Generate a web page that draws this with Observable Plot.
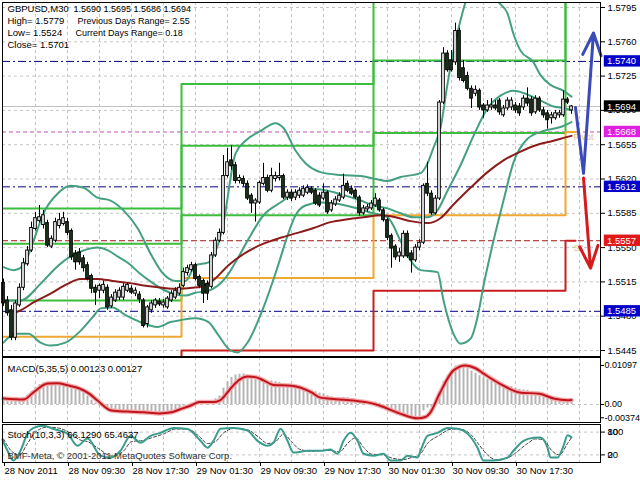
<!DOCTYPE html>
<html><head><meta charset="utf-8">
<script src="https://cdn.jsdelivr.net/npm/d3@7"></script>
<script src="https://cdn.jsdelivr.net/npm/@observablehq/plot@0.6"></script>
<style>
body{margin:0;background:#fff;}
#wrap{position:relative;width:640px;height:480px;overflow:hidden;background:#fff;}
#wrap > div{position:absolute;left:0;}
</style></head><body>
<div id="wrap"><div id="main" style="top:0"></div><div id="macd" style="top:356px"></div><div id="stoch" style="top:422px"></div></div>
<script>
// ---------- DATA ----------
const symbolText = "GBPUSD,M30";
const lastBarOHLC = [1.5690, 1.5695, 1.5686, 1.5694];
const dayHigh = 1.5779, dayLow = 1.5524, dayClose = 1.5701;
const prevDaysRange = "2.55", currentDaysRange = "0.18";

const candleOpen = [1.5514,1.5496,1.5486,1.5458,1.5491,1.5509,1.5533,1.5547,1.5569,1.5577,1.5573,1.5575,1.5551,1.5557,1.5572,1.5574,1.5576,1.5567,1.5544,1.5545,1.5539,1.5532,1.5521,1.5509,1.5506,1.5506,1.5509,1.5490,1.5496,1.5499,1.5499,1.5506,1.5508,1.5503,1.5502,1.5496,1.5472,1.5486,1.5491,1.5495,1.5491,1.5489,1.5496,1.5499,1.5503,1.5511,1.5524,1.5527,1.5532,1.5520,1.5516,1.5513,1.5510,1.5542,1.5557,1.5565,1.5623,1.5639,1.5634,1.5618,1.5620,1.5615,1.5603,1.5595,1.5596,1.5615,1.5621,1.5608,1.5620,1.5621,1.5623,1.5601,1.5606,1.5601,1.5603,1.5603,1.5606,1.5610,1.5608,1.5603,1.5600,1.5606,1.5588,1.5594,1.5598,1.5601,1.5615,1.5610,1.5608,1.5601,1.5585,1.5589,1.5590,1.5593,1.5598,1.5588,1.5578,1.5562,1.5551,1.5541,1.5541,1.5564,1.5544,1.5537,1.5550,1.5555,1.5615,1.5605,1.5585,1.5600,1.5698,1.5748,1.5741,1.5739,1.5771,1.5733,1.5725,1.5712,1.5707,1.5710,1.5695,1.5690,1.5693,1.5695,1.5700,1.5685,1.5692,1.5693,1.5695,1.5694,1.5693,1.5702,1.5701,1.5688,1.5702,1.5690,1.5687,1.5682,1.5682,1.5685,1.5685,1.5701,1.5690];
const candleHigh = [1.5518,1.5500,1.5491,1.5496,1.5513,1.5539,1.5551,1.5576,1.5586,1.5593,1.5588,1.5578,1.5562,1.5580,1.5585,1.5586,1.5580,1.5569,1.5547,1.5549,1.5542,1.5535,1.5523,1.5512,1.5513,1.5516,1.5512,1.5502,1.5507,1.5509,1.5513,1.5514,1.5511,1.5509,1.5505,1.5498,1.5491,1.5496,1.5498,1.5498,1.5497,1.5500,1.5506,1.5509,1.5513,1.5529,1.5532,1.5535,1.5534,1.5522,1.5518,1.5516,1.5545,1.5560,1.5569,1.5644,1.5651,1.5654,1.5637,1.5624,1.5623,1.5618,1.5605,1.5600,1.5618,1.5636,1.5624,1.5631,1.5627,1.5636,1.5625,1.5609,1.5609,1.5609,1.5611,1.5613,1.5614,1.5612,1.5610,1.5606,1.5615,1.5608,1.5598,1.5602,1.5606,1.5625,1.5618,1.5613,1.5610,1.5603,1.5593,1.5594,1.5598,1.5605,1.5600,1.5590,1.5580,1.5564,1.5553,1.5549,1.5567,1.5567,1.5547,1.5553,1.5558,1.5615,1.5637,1.5608,1.5603,1.5700,1.5754,1.5751,1.5751,1.5779,1.5774,1.5741,1.5729,1.5715,1.5715,1.5712,1.5697,1.5700,1.5702,1.5700,1.5702,1.5695,1.5703,1.5703,1.5698,1.5697,1.5705,1.5713,1.5704,1.5705,1.5704,1.5693,1.5690,1.5688,1.5690,1.5690,1.5710,1.5703,1.5695];
const candleLow = [1.5490,1.5480,1.5455,1.5455,1.5489,1.5506,1.5531,1.5545,1.5567,1.5575,1.5569,1.5550,1.5549,1.5555,1.5569,1.5572,1.5562,1.5537,1.5527,1.5532,1.5525,1.5516,1.5503,1.5491,1.5498,1.5503,1.5486,1.5488,1.5494,1.5496,1.5496,1.5504,1.5502,1.5500,1.5493,1.5468,1.5468,1.5483,1.5488,1.5490,1.5488,1.5487,1.5494,1.5497,1.5501,1.5509,1.5521,1.5525,1.5516,1.5508,1.5493,1.5496,1.5508,1.5540,1.5555,1.5563,1.5621,1.5629,1.5615,1.5615,1.5612,1.5598,1.5585,1.5576,1.5594,1.5613,1.5606,1.5606,1.5617,1.5618,1.5599,1.5598,1.5597,1.5598,1.5600,1.5601,1.5604,1.5604,1.5593,1.5591,1.5598,1.5584,1.5586,1.5592,1.5596,1.5599,1.5606,1.5603,1.5599,1.5582,1.5583,1.5586,1.5588,1.5591,1.5586,1.5576,1.5557,1.5529,1.5537,1.5535,1.5539,1.5539,1.5524,1.5535,1.5547,1.5553,1.5602,1.5583,1.5583,1.5598,1.5696,1.5729,1.5729,1.5736,1.5720,1.5718,1.5710,1.5692,1.5704,1.5690,1.5682,1.5688,1.5690,1.5690,1.5685,1.5683,1.5690,1.5690,1.5687,1.5684,1.5690,1.5694,1.5684,1.5686,1.5688,1.5682,1.5671,1.5676,1.5680,1.5682,1.5683,1.5696,1.5686];
const candleClose = [1.5493,1.5483,1.5458,1.5493,1.5509,1.5534,1.5547,1.5570,1.5580,1.5581,1.5583,1.5552,1.5559,1.5576,1.5578,1.5580,1.5565,1.5540,1.5535,1.5535,1.5529,1.5518,1.5508,1.5504,1.5511,1.5512,1.5489,1.5499,1.5504,1.5506,1.5510,1.5512,1.5504,1.5506,1.5497,1.5470,1.5489,1.5493,1.5496,1.5492,1.5494,1.5498,1.5503,1.5506,1.5509,1.5525,1.5529,1.5532,1.5518,1.5511,1.5503,1.5503,1.5542,1.5557,1.5565,1.5623,1.5637,1.5633,1.5618,1.5621,1.5615,1.5600,1.5595,1.5598,1.5616,1.5621,1.5608,1.5623,1.5623,1.5623,1.5601,1.5606,1.5600,1.5606,1.5608,1.5610,1.5611,1.5606,1.5595,1.5593,1.5606,1.5586,1.5595,1.5599,1.5603,1.5613,1.5608,1.5605,1.5601,1.5585,1.5590,1.5591,1.5595,1.5600,1.5588,1.5578,1.5560,1.5549,1.5540,1.5545,1.5564,1.5541,1.5537,1.5550,1.5555,1.5613,1.5605,1.5585,1.5600,1.5698,1.5748,1.5731,1.5731,1.5771,1.5723,1.5720,1.5712,1.5702,1.5711,1.5693,1.5690,1.5695,1.5695,1.5692,1.5688,1.5692,1.5700,1.5700,1.5690,1.5687,1.5702,1.5697,1.5687,1.5702,1.5690,1.5685,1.5680,1.5685,1.5687,1.5687,1.5701,1.5698,1.5694];

// Bollinger bands and slow MA, [bar index, price]
const bandUpper = [[0,1.5530],[2.5,1.5527],[5,1.5532],[7.5,1.5557],[10,1.5585],[13.5,1.5605],[16.75,1.5613],[20,1.5611],[23.5,1.5601],[26.75,1.5598],[30,1.5588],[33.5,1.5570],[36.75,1.5544],[40,1.5523],[43,1.5516],[45.5,1.5516],[48,1.5532],[51.25,1.5535],[54.75,1.5570],[58,1.5646],[60.5,1.5659],[64.25,1.5669],[68,1.5677],[70,1.5672],[73,1.5649],[75.5,1.5636],[79.25,1.5627],[84.25,1.5624],[89.25,1.5623],[93,1.5620],[96,1.5618],[99.25,1.5622],[104.25,1.5626],[106,1.5636],[107.5,1.5652],[109.25,1.5672],[111,1.5717],[112.5,1.5751],[114.25,1.5782],[116,1.5807],[119.25,1.5833],[121.75,1.5817],[123.5,1.5802],[126,1.5789],[127.5,1.5768],[129.25,1.5751],[132.5,1.5739],[134.25,1.5726],[136.75,1.5716],[140,1.5710],[142,1.5704]];
const bandMiddle = [[0,1.5496],[4.25,1.5496],[9.25,1.5513],[13,1.5529],[16,1.5539],[20,1.5547],[23.5,1.5550],[26.25,1.5547],[28.5,1.5541],[31.25,1.5534],[34.25,1.5523],[37.25,1.5514],[40,1.5507],[43,1.5502],[45.5,1.5501],[48,1.5504],[51.25,1.5506],[55.5,1.5519],[58,1.5535],[61,1.5557],[65,1.5583],[69.25,1.5596],[73,1.5606],[76.75,1.5610],[81,1.5608],[85.5,1.5603],[89.25,1.5598],[92.5,1.5593],[96,1.5590],[99.25,1.5585],[102.5,1.5581],[106,1.5581],[108.5,1.5588],[111,1.5608],[114.25,1.5634],[117.5,1.5664],[121,1.5692],[124.25,1.5705],[127.5,1.5710],[130.5,1.5707],[134.25,1.5700],[137.5,1.5694],[140.5,1.5692],[142,1.5690]];
const bandLower = [[0,1.5453],[3,1.5462],[6.25,1.5462],[9.25,1.5453],[11.75,1.5450],[15.5,1.5453],[19.25,1.5465],[22.5,1.5480],[24.25,1.5488],[27.25,1.5489],[30.5,1.5481],[34.25,1.5474],[38.5,1.5469],[41.75,1.5474],[44.25,1.5476],[48,1.5478],[51.25,1.5474],[53.5,1.5462],[56.75,1.5445],[58.5,1.5443],[61,1.5453],[65,1.5489],[68.5,1.5530],[71,1.5562],[73,1.5583],[75.5,1.5593],[79.25,1.5596],[83,1.5595],[87.5,1.5591],[92.5,1.5585],[96,1.5581],[99.25,1.5557],[101.75,1.5537],[104.25,1.5527],[108.5,1.5525],[110,1.5496],[112.5,1.5462],[114.25,1.5452],[116.75,1.5457],[118.5,1.5479],[120,1.5511],[122.5,1.5557],[125,1.5598],[127.5,1.5637],[131,1.5661],[135,1.5669],[139.25,1.5673],[142,1.5678]];
const slowMA = [[3,1.5484],[4.25,1.5486],[7.5,1.5494],[11.75,1.5503],[16,1.5513],[19.25,1.5518],[23.5,1.5518],[27.25,1.5516],[31.25,1.5514],[35.5,1.5511],[39.75,1.5509],[43.75,1.5508],[47.25,1.5509],[49.25,1.5510],[52.5,1.5517],[56.25,1.5532],[61,1.5546],[65,1.5554],[69.25,1.5560],[73.5,1.5565],[77.5,1.5570],[81.75,1.5576],[86,1.5579],[90,1.5581],[94.25,1.5583],[98,1.5581],[101.75,1.5577],[106,1.5575],[109.25,1.5580],[112.5,1.5594],[116.75,1.5611],[121,1.5627],[125,1.5639],[129.25,1.5648],[133.5,1.5655],[137.5,1.5659],[141,1.5663],[142,1.5664]];

// daily pivot levels (days: 28 Nov, 29 Nov, 30 Nov, 1 Dec)
const dayBounds = [-0.25, 44.5, 92.5, 140.5, 143];
const pivotP  = [1.5459, 1.5519, 1.5583, 1.5668];
const pivotS1 = [1.5401, 1.5445, 1.5506, 1.5557];
const pivotR1 = [1.5496, 1.5583, 1.5667, 1.5812];
const pivotR2 = [1.5554, 1.5654, 1.5741, 1.5923];
const pivotR3 = [1.5590, 1.5717, 1.5832, 1.6034];
const midLevels = [1.5740, 1.5612, 1.5485];
const pivotNow = 1.5668, s1Now = 1.5557, bidPrice = 1.5694;

// projection arrows
const blueProjection = [[143,1.5693],[145,1.5626],[147.5,1.5769]];
const redProjection = [[145,1.5621],[146.75,1.5529]];

// axis
const priceTicks = [1.5795,1.5760,1.5725,1.5690,1.5655,1.5620,1.5585,1.5550,1.5515,1.5480,1.5445];
const axisLevels = [1.5740, 1.5694, 1.5668, 1.5612, 1.5557, 1.5485];
const gridIdx = [8,16,24,32,40,48,56,64,72,80,88,96,104,112,120,128,136,144];
const timeTickIdx = [0,16,32,48,64,80,96,112,128];
const timeLabels = ["28 Nov 2011","28 Nov 09:30","28 Nov 17:30","29 Nov 01:30","29 Nov 09:30","29 Nov 17:30","30 Nov 01:30","30 Nov 09:30","30 Nov 17:30"];

// MACD
const macdMain = 0.00123, macdSignalLast = 0.00127;
const macdHist = [0.0018,0.0016,0.0014,0.0014,0.0016,0.0020,0.0026,0.0036,0.0048,0.0056,0.0061,0.0060,0.0058,0.0058,0.0057,0.0056,0.0054,0.0050,0.0046,0.0042,0.0034,0.0024,0.0012,0.0004,-0.0003,-0.0008,-0.0014,-0.0017,-0.0019,-0.0020,-0.0020,-0.0020,-0.0021,-0.0021,-0.0022,-0.0026,-0.0026,-0.0025,-0.0024,-0.0024,-0.0023,-0.0021,-0.0018,-0.0015,-0.0011,-0.0004,0.0000,0.0004,0.0005,0.0005,0.0004,0.0004,0.0010,0.0016,0.0024,0.0046,0.0064,0.0076,0.0083,0.0085,0.0086,0.0082,0.0076,0.0072,0.0071,0.0070,0.0066,0.0066,0.0064,0.0062,0.0058,0.0054,0.0051,0.0048,0.0046,0.0044,0.0042,0.0040,0.0036,0.0032,0.0030,0.0025,0.0021,0.0019,0.0018,0.0020,0.0019,0.0017,0.0015,0.0010,0.0008,0.0007,0.0007,0.0007,0.0004,-0.0002,-0.0010,-0.0019,-0.0026,-0.0030,-0.0029,-0.0032,-0.00374,-0.0037,-0.0035,-0.0018,-0.0010,-0.0008,-0.0002,0.0030,0.0065,0.0082,0.0095,0.0108,0.01097,0.0106,0.0101,0.0094,0.0088,0.0081,0.0075,0.0070,0.0066,0.0062,0.0057,0.0054,0.0052,0.0050,0.0046,0.0043,0.0041,0.0040,0.0036,0.0034,0.0032,0.0029,0.0022,0.0019,0.0016,0.0014,0.0014,0.0013,0.00123];
const macdSignal = [[0,0.0017],[5,0.0014],[7.5,0.0034],[11,0.0059],[13.5,0.0060],[16,0.0054],[19,0.0045],[21.5,0.0030],[23.5,0.0011],[27,-0.0017],[31,-0.0020],[35,-0.0022],[39,-0.0025],[42,-0.0022],[44,-0.0014],[47,-0.0002],[49,0.0007],[52.5,0.0007],[54,0.0011],[57,0.0048],[59,0.0070],[61,0.0079],[63,0.0077],[65,0.0068],[67.5,0.0055],[72,0.0053],[77,0.0034],[79,0.0020],[83,0.0015],[87.5,0.0011],[91,0.0006],[94,-0.0003],[99,-0.0025],[103.5,-0.0039],[105.5,-0.0035],[106.75,-0.0022],[109,0.0030],[112.5,0.0096],[115.5,0.0110],[118,0.0102],[120,0.0087],[124,0.0059],[129,0.0034],[134,0.0030],[137.5,0.0017],[141,0.0012],[142,0.00127]];
const macdTicks = [0.01097, 0, -0.00374];
const macdTickText = ["0.01097", "0.00", "-0.00374"];

// Stochastic
const stochMainLast = "66.1290", stochSignalLastText = "65.4637";
const stochMain = [[-0.25,60],[1,31],[2.5,5],[4.25,31],[6,76],[7.5,91],[10,97],[12.5,88],[16,76],[18.5,44],[21,63],[24.25,18],[26.75,13],[29.25,31],[31.75,70],[34.25,52],[36.75,70],[39.25,78],[42.5,91],[46,88],[49.25,57],[51,39],[52.5,57],[54.25,89],[57.5,91],[61,84],[63.5,57],[66,44],[67.5,52],[69.25,89],[71,57],[72.5,26],[76,31],[79.25,31],[81.75,34],[83.5,23],[85,57],[86.75,78],[88.5,57],[90,23],[92.5,18],[95,23],[96.75,5],[99.25,5],[101,18],[103.5,13],[104.25,31],[106,70],[108.5,78],[111,91],[113.5,89],[116,76],[118.5,39],[120,5],[122.5,5],[126,13],[127.5,31],[130,57],[132.5,65],[134.25,66],[136,39],[136.75,13],[138.5,13],[140,44],[141,72],[142,66.129]];
const stochSignal = [[0,62],[2,30],[4,20],[6,50],[8,80],[11,93],[14,90],[17,75],[19,60],[21,55],[24,35],[27,17],[30,30],[32,55],[35,58],[37,65],[40,75],[43,88],[46,88],[49,68],[51,50],[53,55],[55,78],[58,90],[61,86],[64,65],[66,50],[68,55],[70,75],[72,55],[74,35],[77,30],[81,32],[84,28],[86,50],[88,65],[90,40],[92,22],[95,20],[97,12],[100,8],[102,13],[104,20],[106,50],[109,72],[112,88],[114,88],[117,72],[119,45],[121,20],[123,8],[126,12],[128,25],[131,50],[133,62],[135,60],[137,32],[139,20],[141,50],[142,65.4637]];
const stochLevels = [80, 20];

// ---------- DRAWING ----------
const FONT = "'Liberation Sans', Arial, sans-serif";
const baseStyle = {fontFamily: FONT, fontSize: "9.5px", background: "transparent", color: "#000", overflow: "visible"};
const xDomain = [-0.25, 149.25];
const GRID = {stroke: "#c4c4c4", strokeDasharray: "3,3", strokeWidth: 1};
const levelColors = ["#0000c8", "#000000", "#e020e0", "#0000c8", "#e01818", "#0000c8"];

function steps(levels) {
  const pts = [];
  levels.forEach((v, d) => { pts.push([dayBounds[d], v]); pts.push([dayBounds[d + 1], v]); });
  return pts;
}
const candles = candleOpen.map((o, i) => ({i, o, h: candleHigh[i], l: candleLow[i], c: candleClose[i]}));
const bulls = candles.filter(d => d.c >= d.o), bears = candles.filter(d => d.c < d.o);
const bodyMarks = (data, fill) => Plot.rect(data, {
  x1: d => d.i - 0.33, x2: d => d.i + 0.33,
  y1: d => Math.min(d.o, d.c), y2: d => Math.max(d.o, d.c) + (d.o === d.c ? 0.00004 : 0),
  fill, stroke: "#000", strokeWidth: 1
});
const header = (t, x, y, fs) => Plot.text([t], {frameAnchor: "top-left", dx: x - 2, dy: y - 2, lineAnchor: "bottom", textAnchor: "start", text: d => d, fill: "#000", fontSize: fs});
const lvlIdx = axisLevels.map((v, k) => k);

const main = Plot.plot({
  width: 640, height: 358, marginLeft: 2, marginRight: 40, marginTop: 2, marginBottom: 2,
  style: baseStyle,
  x: {domain: xDomain, axis: null},
  y: {domain: [1.543888, 1.580010], axis: null},
  color: {type: "identity"},
  marks: [
    Plot.ruleY(priceTicks, GRID),
    Plot.ruleX(gridIdx, GRID),
    Plot.ruleY([bidPrice], {stroke: "#c0c0c0"}),
    Plot.ruleY(midLevels, {stroke: "#000080", strokeDasharray: "8,3,2,3"}),
    Plot.ruleY([pivotNow], {stroke: "#c050c0", strokeDasharray: "4,3"}),
    Plot.ruleY([s1Now], {stroke: "#a01818", strokeDasharray: "6,3"}),
    Plot.line(steps(pivotR3), {x: d => d[0], y: d => d[1], stroke: "#3cbe3c", strokeWidth: 2, clip: true}),
    Plot.line(steps(pivotR2), {x: d => d[0], y: d => d[1], stroke: "#3cbe3c", strokeWidth: 2, clip: true}),
    Plot.line(steps(pivotR1), {x: d => d[0], y: d => d[1], stroke: "#3cbe3c", strokeWidth: 2, clip: true}),
    Plot.line(steps(pivotP), {x: d => d[0], y: d => d[1], stroke: "#f0a830", strokeWidth: 2, clip: true}),
    Plot.line(steps(pivotS1), {x: d => d[0], y: d => d[1], stroke: "#c81e1e", strokeWidth: 2, clip: true}),
    Plot.line(bandUpper, {x: d => d[0], y: d => d[1], stroke: "#45a080", strokeWidth: 2, curve: "monotone-x", clip: true}),
    Plot.line(bandMiddle, {x: d => d[0], y: d => d[1], stroke: "#45a080", strokeWidth: 2, curve: "monotone-x", clip: true}),
    Plot.line(bandLower, {x: d => d[0], y: d => d[1], stroke: "#45a080", strokeWidth: 2, curve: "monotone-x", clip: true}),
    Plot.line(slowMA, {x: d => d[0], y: d => d[1], stroke: "#8b1c1c", strokeWidth: 2, curve: "monotone-x", clip: true}),
    Plot.ruleX(candles, {x: "i", y1: "l", y2: "h", stroke: "#000", strokeWidth: 1}),
    bodyMarks(bulls, "#ffffff"),
    bodyMarks(bears, "#1e3a1e"),
    Plot.text(["Pivot"], {x: () => 142.5, y: () => pivotNow, dy: 5, textAnchor: "start", fill: "#e9c08a", fontSize: 9}),
    Plot.text(["S1"], {x: () => 142.5, y: () => s1Now, dy: 7, textAnchor: "start", fill: "#e9c08a", fontSize: 9}),
    Plot.line(blueProjection.slice(0, 2), {x: d => d[0], y: d => d[1], stroke: "#3a4ab8", strokeWidth: 3}),
    Plot.arrow([0], {x1: () => blueProjection[1][0], y1: () => blueProjection[1][1], x2: () => blueProjection[2][0], y2: () => blueProjection[2][1], stroke: "#3a4ab8", strokeWidth: 3, headLength: 12, headAngle: 45}),
    Plot.arrow([0], {x1: () => redProjection[0][0], y1: () => redProjection[0][1], x2: () => redProjection[1][0], y2: () => redProjection[1][1], stroke: "#d41c1c", strokeWidth: 3, headLength: 12, headAngle: 45}),
    header(symbolText, 7, 11, 9.5),
    header(lastBarOHLC.map(v => v.toFixed(4)).join(" "), 73, 11, 9),
    header("High= " + dayHigh.toFixed(4), 7, 23, 9.5),
    header("Previous Days Range= " + prevDaysRange, 77, 23, 9),
    header("Low= " + dayLow.toFixed(4), 7, 35, 9.5),
    header("Current Days Range= " + currentDaysRange, 75, 35, 9),
    header("Close= " + dayClose.toFixed(4), 7, 47, 9.5),
    Plot.axisY({anchor: "right", ticks: priceTicks, tickSize: 4, tickPadding: 3, tickFormat: d => d.toFixed(4), label: null, fontSize: 9.5}),
    Plot.rect(lvlIdx, {x1: () => 150.2, x2: () => 159.25, y1: k => axisLevels[k] - 0.00058, y2: k => axisLevels[k] + 0.00058, fill: k => levelColors[k]}),
    Plot.text(lvlIdx, {x: () => 150.9, y: k => axisLevels[k], text: k => axisLevels[k].toFixed(4), fill: "#ffffff", textAnchor: "start", fontSize: 9.5}),
    Plot.frame({stroke: "#000"})
  ]
});
document.getElementById("main").append(main);

const macd = Plot.plot({
  width: 640, height: 67, marginLeft: 2, marginRight: 40, marginTop: 1, marginBottom: 1,
  style: baseStyle,
  x: {domain: xDomain, axis: null},
  y: {domain: [-0.005063, 0.013221], axis: null},
  marks: [
    Plot.ruleX(gridIdx, GRID),
    Plot.ruleY([0], GRID),
    Plot.ruleX(macdHist, {x: (d, i) => i, y1: () => 0, y2: d => d, stroke: "#b4b4b4", strokeWidth: 2}),
    Plot.line(macdSignal, {x: d => d[0], y: d => d[1], stroke: "#f2aaaa", strokeWidth: 4.5, curve: "monotone-x"}),
    Plot.line(macdSignal, {x: d => d[0], y: d => d[1], stroke: "#c0141e", strokeWidth: 2, curve: "monotone-x"}),
    Plot.text(["MACD(5,35,5) " + macdMain.toFixed(5) + " " + macdSignalLast.toFixed(5)], {frameAnchor: "top-left", dx: 5, dy: 14, lineAnchor: "bottom", textAnchor: "start", fill: "#000", fontSize: 9.5}),
    Plot.ruleY(macdTicks, {x1: () => 149.25, x2: () => 150.25, stroke: "#000"}),
    Plot.text(macdTicks, {y: d => d, frameAnchor: "right", dx: 4, textAnchor: "start", text: (d, i) => macdTickText[i], fill: "#000", fontSize: 9}),
    Plot.frame({stroke: "#000"})
  ]
});
document.getElementById("macd").append(macd);

const stoch = Plot.plot({
  width: 640, height: 58, marginLeft: 2, marginRight: 40, marginTop: 2, marginBottom: 18,
  style: baseStyle,
  x: {domain: xDomain, axis: null},
  y: {domain: [0, 100], axis: null},
  marks: [
    Plot.ruleX(gridIdx, GRID),
    Plot.ruleY(stochLevels, GRID),
    Plot.line(stochSignal, {x: d => d[0], y: d => d[1], stroke: "#404040", strokeWidth: 1, strokeDasharray: "3,2", curve: "monotone-x"}),
    Plot.line(stochMain, {x: d => d[0], y: d => d[1], stroke: "#3a9c8c", strokeWidth: 2, curve: "monotone-x"}),
    Plot.text(["Stoch(10,3,3) " + stochMainLast + " " + stochSignalLastText], {frameAnchor: "top-left", dx: 5, dy: 13, lineAnchor: "bottom", textAnchor: "start", fill: "#000", fontSize: 9.5}),
    Plot.text(["BMF-Meta, © 2001-2011 MetaQuotes Software Corp."], {frameAnchor: "top-left", dx: 5, dy: 34, lineAnchor: "bottom", textAnchor: "start", fill: "#303030", fontSize: 9.5}),
    Plot.axisY({anchor: "right", ticks: stochLevels, tickSize: 4, tickPadding: 3, tickFormat: d => String(d), label: null, fontSize: 9.5}),
    Plot.text([100], {y: d => d, frameAnchor: "right", dx: 7, dy: 7.5, textAnchor: "start", text: d => String(d), fill: "#000", fontSize: 9.5}),
    Plot.text([0], {y: d => d, frameAnchor: "right", dx: 7, dy: -7.5, textAnchor: "start", text: d => String(d), fill: "#000", fontSize: 9.5}),
    Plot.axisX({anchor: "bottom", ticks: timeTickIdx, tickSize: 4, tickPadding: 1, tickFormat: (d, i) => timeLabels[timeTickIdx.indexOf(d)], textAnchor: "start", dx: 1, label: null, fontSize: 9.5}),
    Plot.frame({stroke: "#000"})
  ]
});
document.getElementById("stoch").append(stoch);
</script>
</body></html>
